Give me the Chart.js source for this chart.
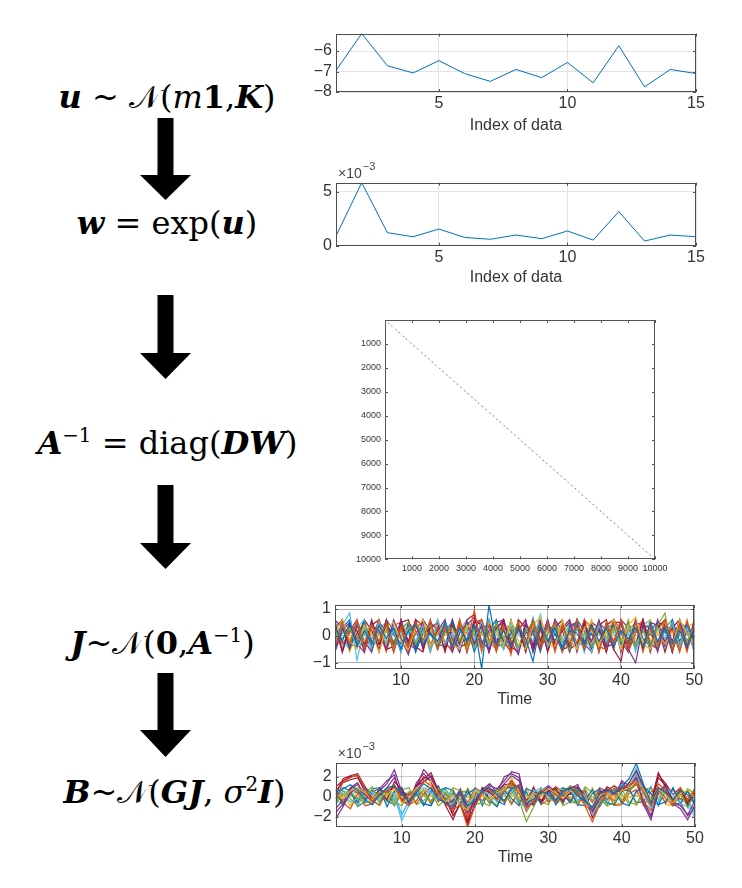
<!DOCTYPE html>
<html>
<head>
<meta charset="utf-8">
<script src="https://cdn.jsdelivr.net/npm/chart.js@4.4.1/dist/chart.umd.min.js"></script>
<style>
  body { margin: 0; background: #fff; }
  #page { position: relative; width: 742px; height: 888px; overflow: hidden; background: #fff; }
  canvas { position: absolute; }
  .eq { position: absolute; width: 300px; text-align: center; font-family: "DejaVu Serif", "Liberation Serif", serif; font-size: 32px; line-height: 40px; color: #000; white-space: nowrap; }
  .eq b { font-weight: bold; }
  .eq sup { font-size: 0.62em; vertical-align: 0.6em; line-height: 0; }
</style>
</head>
<body>
<div id="page">
  <svg width="742" height="888" style="position:absolute;left:0;top:0">
    <polygon points="157.5,118 173.5,118 173.5,175 191,175 165.5,200 140,175 157.5,175" fill="#000"/>
    <polygon points="157.5,295 173.5,295 173.5,353 191,353 165.5,379 140,353 157.5,353" fill="#000"/>
    <polygon points="157.5,485 173.5,485 173.5,543 191,543 165.5,569 140,543 157.5,543" fill="#000"/>
    <polygon points="157.5,673 173.5,673 173.5,730 191,730 165.5,757 140,730 157.5,730" fill="#000"/>
  </svg>

  <div class="eq" style="left:17px;top:77px"><b><i>u</i></b> ~ 𝒩(<i>m</i><b>1</b>,<b><i>K</i></b>)</div>
  <div class="eq" style="left:17px;top:203px"><b><i>w</i></b> = exp(<b><i>u</i></b>)</div>
  <div class="eq" style="left:17.5px;top:423px"><b><i>A</i></b><sup>−1</sup> = diag(<b><i>DW</i></b>)</div>
  <div class="eq" style="left:12.5px;top:623px"><b><i>J</i></b>~𝒩(<b>0</b>,<b><i>A</i></b><sup>−1</sup>)</div>
  <div class="eq" style="left:24.5px;top:772px"><b><i>B</i></b>~𝒩(<b><i>GJ</i></b>, <i>σ</i><sup>2</sup><b><i>I</i></b>)</div>

  <canvas id="cu" width="420" height="116" style="left:300px;top:20px"></canvas>
  <canvas id="cw" width="420" height="128" style="left:300px;top:160px"></canvas>
  <canvas id="cs" width="380" height="270" style="left:330px;top:310px"></canvas>
  <canvas id="cj" width="420" height="120" style="left:300px;top:590px"></canvas>
  <canvas id="cb" width="420" height="128" style="left:300px;top:740px"></canvas>
</div>

<script>
// data index and sampled log-weights u
const dataIdx = [1,2,3,4,5,6,7,8,9,10,11,12,13,14,15];
const uVals = [-6.95,-5.15,-6.72,-7.07,-6.47,-7.1,-7.48,-6.9,-7.3,-6.56,-7.55,-5.74,-7.75,-6.9,-7.1];
// weights w = exp(u), stored in units of 1e-3
const wVals = [0.9,5.83,1.2,0.83,1.54,0.77,0.59,0.99,0.65,1.36,0.52,3.15,0.43,0.99,0.83];

const idxTicks = [5,10,15];
const uTicks = [-8,-7,-6];
const wTicks = [0,5];

// nonzero diagonal entries of A^-1 shown in the sparsity plot
const diagIdx = [130,250,410,520,690,800,960,1080,1210,1370,1490,1620,1750,1880,2030,2150,2290,2410,2560,2680,
  2810,2960,3080,3220,3350,3470,3610,3740,3890,4010,4150,4270,4420,4540,4680,4810,4950,5070,5200,5340,
  5460,5610,5730,5870,5990,6130,6260,6390,6520,6660,6780,6920,7050,7180,7310,7450,7580,7710,7840,7980,
  8100,8240,8370,8500,8640,8770,8900,9030,9170,9300,9430,9560,9690,9826];
const spyTicks = [1000,2000,3000,4000,5000,6000,7000,8000,9000,10000];

const time = [1,2,3,4,5,6,7,8,9,10,11,12,13,14,15,16,17,18,19,20,21,22,23,24,25,
  26,27,28,29,30,31,32,33,34,35,36,37,38,39,40,41,42,43,44,45,46,47,48,49,50];
const timeTicks = [10,20,30,40,50];
const jTicks = [-1,0,1];
const bTicks = [-2,0,2];

// source currents J, one row per source
const jTraces = [
  [.3,-.2,.5,-.4,.2,-.3,.4,-.1,.3,-.5, .2,.4,-.3,.1,-.2,.5,-.4,.3,-.2,.4, -1.22,1.15,-.3,.2,-.4,.3,-.1,-.95,.4,-.2, .3,-.5,.2,.1,-.3,.4,-.2,.3,-.4,.2, -.1,.3,-.4,.5,-.2,.3,-.3,.2,-.4,.3],
  [-.4,.5,-.3,.6,-.5,.4,-.2,.5,-.6,.3, -.4,.5,-.2,.6,-.5,.3,-.4,.6,-.3,.95, -.5,.4,-.6,.3,-.7,.5,-.3,.6,-.4,.5, -.6,.4,-.3,.6,-.5,.4,-.6,.5,-.3,.6, -.4,.5,-.6,.4,-.3,.6,-.5,.4,-.6,.5],
  [.1,.6,-.2,-.5,.4,.1,-.6,.3,.5,-.2, -.5,.3,.6,-.4,.1,.5,-.3,-.5,.4,.2, -.6,.5,.1,-.4,.6,-.2,-.5,.4,.7,-.3, -.4,.6,-.1,-.5,.3,.5,-.4,.2,.6,-.5, .4,.7,-.3,-.5,.2,.5,-.4,.6,.1,-.3],
  [-.6,.2,.5,-.3,-.6,.4,.2,-.5,.6,-.1, -.7,.3,.5,-.4,.2,.6,-.6,.1,.5,-.3, .4,-.6,.3,.5,-.2,-.7,.4,.1,-.5,.6, -.3,.2,.5,-.6,.4,-.2,.6,-.4,-.3,.5, -.5,-1.0,.4,.3,-.6,.5,-.2,.6,-.4,.2],
  [.2,-.1,.3,-.3,.1,.4,-.2,.2,-.4,.3, .5,-.3,.2,.4,-.5,.1,.3,-.2,.5,-.4, .2,-.3,.5,-.1,.3,-.4,.2,.5,-.3,.1, .4,-.2,-.5,.3,.2,-.4,.5,-.1,.3,-.2, .6,-.4,.2,-.3,.4,.85,-.5,.3,-.2,.4],
  [-.2,.4,.85,-.9,.3,-.4,.5,-.3,.2,-.6, .3,-.2,.4,-.5,.6,-.3,.1,-.4,.3,-.2, .5,-.4,.2,-.3,.4,-.5,.3,-.2,.8,-.4, .2,-.3,.5,-.4,.1,-.6,.4,-.2,.3,-.5, .4,-.3,.2,-.5,.3,-.1,.5,-.4,.3,-.6],
  [.5,-.6,.4,.2,-.5,.6,-.3,.5,-.6,.4, -.2,.6,-.5,.3,.5,-.6,.4,-.3,.6,.8, -.6,.5,-.3,.6,-.5,.4,-.6,.5,-.2,.6, -.5,.3,.6,-.4,.5,-.6,.4,.6,-.5,-.95, .5,-.4,.6,-.5,.3,.6,-.6,.4,-.5,.6],
  [-.1,.3,-.4,.1,.5,-.2,-.3,.4,.1,-.3, .2,-.5,.3,.1,-.4,.2,.5,-.3,-.1,.4, -.3,.2,.6,-.4,.1,.3,-.5,.2,-.2,.4, .1,-.4,.3,.5,-.2,.1,-.5,.3,.4,-.3, -.2,.5,-.1,-.4,.3,.2,-.5,.1,.4,-.2],
  [.4,-.3,.1,.5,-.4,-.1,.6,-.5,.2,.3, -.6,.1,.4,-.5,.3,-.2,-.6,.5,.1,-.4, .6,-.2,-.5,.4,.3,-.6,.2,.4,-.5,.1, .5,-.6,.2,-.3,.6,.3,-.4,-.5,.6,.2, -.6,.1,.5,-.2,-.5,.4,.2,-.6,.5,-.1],
  [0,.2,-.1,.1,-.2,.3,0,-.2,.2,-.1, .3,-.2,0,.2,-.3,.1,.2,-.1,.3,-.2, .1,-.3,.2,0,-.2,.3,-.1,.2,-.3,.1, .2,-.1,.3,-.2,0,.2,-.3,.1,.2,-.2, .3,-.1,-.2,.2,.1,-.3,.2,0,-.2,.1],
  [.6,.3,-.5,.4,-.2,-.6,.5,.2,-.4,.6, -.3,-.5,.6,.2,-.4,.5,-.1,-.6,.4,.7, -.2,-.5,.5,.6,-.4,.2,.6,-.6,.3,-.5, .6,.2,-.6,.4,-.5,.5,.3,-.4,.6,-.2, -.6,.5,.4,-.5,.6,-.3,.5,-.4,.2,-.5],
  [-.3,.1,.2,-.2,.4,-.4,.1,.3,-.2,.2, -.3,.4,-.1,-.3,.2,.4,-.2,.3,-.4,.1, .3,.1,-.4,.2,-.1,.5,-.3,-.2,.4,-.1, -.3,.4,.1,-.2,-.4,.3,.1,-.3,.2,.4, -.2,-.3,.3,.1,-.4,.2,.4,-.3,.1,-.2],
  [.5,-.4,-.2,.3,.6,-.5,.2,-.4,.5,.1, -.5,.4,.2,-.6,.3,.4,-.5,.2,.6,-.3, -.4,.6,-.1,-.5,.5,.1,-.4,.7,-.3,.4, -.5,.5,-.2,.3,-.6,.4,-.3,.5,.1,-.4, .5,-.6,.3,.4,-.5,.2,-.4,.6,-.2,.4],
  [-.5,.6,-.3,-.4,.6,.2,-.5,.6,-.3,.5, .6,-.4,-.6,.5,.2,-.5,.6,-.4,-.3,.6, .4,-.6,.5,-.2,-.6,.6,.3,-.5,.5,-.6, .3,.6,-.5,-.3,.6,-.4,.2,-.6,.5,.5, -.4,.6,-.5,.5,.4,-.6,.3,.6,-.5,.2],
  [-.5,.3,.6,-.2,-.4,.5,-.3,.6,.2,-.5, .4,-.6,.1,.5,-.3,-.4,.6,-.2,.3,-.6, .2,.5,-.4,-.3,.6,-.5,.1,.3,-.6,.4, -.2,.5,-.4,.6,.2,-.5,.3,-.6,.4,.1, -.3,.6,-.5,.2,.5,-.4,.6,-.2,.3,-.5],
  [.2,-.5,.4,-.1,.6,-.3,.2,-.6,.4,.5, -.2,-.4,.6,-.3,.1,.5,-.5,.4,-.6,.3, .6,-.1,-.4,.5,-.3,.2,.6,-.6,.2,-.4, .5,-.3,.1,.6,-.4,.3,-.5,.4,-.2,.6, -.3,.2,.6,-.6,.4,-.2,.3,-.5,.6,-.4],
  [-.3,.5,-.6,.2,.3,-.5,.6,-.1,-.4,.5, .1,-.3,.5,-.6,.4,.2,-.4,.6,-.5,.1, .3,-.6,.4,.2,-.5,.6,-.3,.1,.5,-.6, .2,.4,-.6,.3,-.1,.6,-.5,.2,-.4,.5, -.6,.3,.1,.6,-.4,-.2,.5,-.6,.3,.5],
  [.4,-.6,.2,.6,-.3,.5,-.6,.3,.1,-.6, .5,.2,-.4,.6,-.5,.3,.1,-.6,.5,-.2, -.4,.6,-.5,.3,.2,-.6,.5,-.3,.6,-.4, .1,-.6,.4,.5,-.3,-.6,.5,.2,-.5,.6, .3,-.4,.6,-.3,-.5,.4,-.6,.5,.3,-.6],
  [-.1,.4,-.3,.5,-.2,.1,.4,-.5,.3,-.1, .4,-.2,.3,-.5,.1,.4,-.3,.5,-.2,.3, -.4,.1,.4,-.5,.2,.3,-.4,.6,-.1,.3, -.4,.2,.5,-.3,.1,.4,-.5,.2,.3,-.4, .2,.5,-.3,.1,-.5,.3,.6,-.4,.2,-.3],
  [.6,-.2,-.5,.4,.1,-.6,.3,.5,-.4,.2, .5,-.6,.3,.1,-.5,.6,-.2,-.4,.5,.3, -.5,.2,.6,-.4,-.1,.5,-.6,.3,.4,-.5, .6,-.1,-.4,.5,-.6,.2,.4,-.5,.6,-.3, .1,-.5,.4,.6,-.3,.2,-.6,.5,-.4,.6],
  [.3,.6,-.5,.5,-.6,.4,.6,-.5,-.4,.6, -.5,.6,.4,-.6,.6,-.3,-.5,.6,-.6,.5, .6,-.5,.3,.6,-.4,-.6,.5,-.4,.6,-.3, .6,-.5,-.4,.6,-.3,.5,-.6,.4,.6,-.6, .5,-.3,.6,-.6,.5,.4,-.5,.6,-.4,.5]
];

// sensor measurements B, in units of 1e-3
const bTraces = [
  [.5,.8,1.2,.6,-.3,-.8,.2,.9,1.1,.3, -.5,.4,1.3,.8,-.2,-.6,-1.0,.5,-.9,-.3, .6,.9,.2,-.4,.8,1.0,-.7,-.2,.5,.3, -.4,.6,.9,.1,-.5,-1.1,.3,.7,.4,1.0, 1.8,3.34,1.2,-.6,.9,.4,-.3,.6,.2,-.5],
  [-.4,1.5,1.9,2.2,.8,-.5,.3,.6,1.2,-.4, -.9,.5,1.6,1.1,.2,-.7,-1.3,-.8,-3.06,-.9, .4,.8,-.3,.5,1.4,.9,-1.2,-.4,.6,.2, -.6,.4,1.0,.3,-.9,-2.5,-.8,.5,.7,.9, 1.2,1.6,.4,-.8,1.3,.6,-.5,.9,-.3,.4],
  [.3,-.2,.6,.9,.4,-.3,.5,.2,.8,-.6, -.2,.9,.5,1.6,.3,-.5,.2,-.9,-1.3,.6, .2,-.3,.4,.7,1.9,.5,-.6,.3,.1,.8, .4,-.2,.6,.2,-.7,-1.1,.2,.4,-.3,.6, .9,1.5,.7,-.4,.8,.2,-.6,.3,.7,-.2],
  [-2.2,-1.0,.4,.9,.2,-.4,.6,1.3,2.7,.5, -.6,1.0,2.7,1.9,.4,-.8,-.4,.6,-1.6,-.3, .5,1.1,.8,1.6,2.5,2.3,-.9,-.6,.4,.9, .3,-.5,.8,1.2,-.4,-1.4,-.2,.7,.3,1.4, .8,1.9,-.8,-2.3,.6,1.0,-.7,-1.2,-2.3,-.8],
  [-.6,.2,.5,-.3,.3,.6,-.2,.4,-.5,-.9, .4,.7,.2,-.4,.8,.3,-.6,-.2,-1.1,.5, .3,-.4,.6,.9,1.2,-.3,-2.5,-1.0,.4,.2, -.3,.5,1.1,.6,-.2,-1.3,-.5,.3,.8,-.4, .6,1.2,.5,-.9,.7,.3,-.8,.5,-1.1,.3],
  [.8,.3,-.5,-.2,.6,.2,-.4,.9,.2,-2.4, -.8,.5,.9,.4,-.3,.7,-.2,-.6,-1.4,.4, .6,.2,-.5,1.0,.6,-.4,-1.3,.5,.9,-.2, -.5,.4,.7,-.3,.3,-1.8,-.6,.2,.6,1.2, 1.0,2.2,.3,-1.2,-.4,.8,.2,-.7,-1.0,-2.0],
  [.2,1.8,2.1,2.3,1.0,-.2,.4,-.3,1.5,.7, -.3,1.2,1.8,2.4,.6,-.9,-2.3,-.5,-2.8,-.6, .9,.4,-.2,.8,1.6,.5,-.9,.3,-.5,.6, .8,-.3,.4,1.0,.2,-2.1,-.7,.6,1.1,.5, 1.4,2.6,1.0,-.5,2.4,.9,-.4,.7,-.6,.5],
  [.7,-.9,.4,-.6,1.0,-.3,.8,-1.0,.5,.9, -.7,.3,-.9,.6,1.1,-.5,.4,-.8,.7,-1.0, .9,-.4,-1.0,.6,-.2,-.9,.8,.5,-.7,1.0, -.8,.2,-.6,.9,-.4,.7,-1.0,.3,.8,-.6, -.9,.5,1.0,.3,-.8,-.5,.9,-.7,.6,-.9],
  [.4,-.6,-1.2,.3,.7,-.4,-.8,.5,.9,-.3, .5,-.7,.3,.9,-.5,.4,-1.0,.3,-2.0,.2, -.4,.6,.2,-.6,1.1,.4,-1.5,-.3,.7,-.5, .3,.6,-.4,.2,-.8,-1.6,.4,-.3,.5,-.6, .7,1.3,-.5,-1.4,.9,-.2,-.9,.4,-.6,.8],
  [.1,0,.1,-.1,0,.1,0,-.1,.1,0, -.1,.1,0,.1,-.1,0,.1,0,-.1,.1, 0,-.1,.1,0,.1,-.1,0,.1,0,-.1, .1,0,-.1,.1,0,-.1,.1,0,.1,0, -.1,.1,0,-.1,.1,0,-.1,.1,0,.1],
  [-1.6,-.7,.8,1.2,.3,-.5,.2,.9,1.9,.2, -.4,.6,1.5,2.0,-.2,-.6,-1.2,.3,-1.0,-.7, .3,.8,.5,1.3,2.1,1.6,-.5,-.8,.2,.6, -.3,.4,.9,.5,-.6,-1.0,.2,.5,.1,.9, .5,1.4,-.4,-1.9,.8,.6,-.5,-.9,-1.8,-.4],
  [-.8,.6,-.2,-.9,.4,1.0,-.6,.3,-.9,.7, .9,-.8,-.4,.5,-.9,-.3,.9,.6,.4,-.8, -.6,-.9,.8,-.5,.3,1.0,.2,-.8,.9,-.6, .7,-.9,-.5,-.7,1.0,.4,-.2,-.9,-.6,.8, -.5,-.8,.7,.9,-.3,1.0,-.6,-.9,.8,.3],
  [-.5,.6,.3,-.4,.9,.4,-.6,.2,-.3,-1.7, -.5,.3,.6,.9,-.4,.2,-.7,.5,-.9,.7, .3,-.5,.6,.2,.8,-.2,-.9,.7,.4,-.4, .6,.3,-.2,.5,-.5,-1.2,.3,-.4,.7,.6, 1.3,2.9,.6,-.8,.2,.5,-.6,.3,-.4,-1.5],
  [.6,1.4,1.7,1.9,.5,-.3,.8,.2,1.1,-.4, .2,.9,2.0,1.6,-.3,-.5,-1.6,.4,-2.4,.3, .7,-.2,.5,1.2,1.3,.8,-.6,.9,-.4,.5, .6,.2,-.5,.7,-.3,-1.5,.4,.8,.3,.8, 1.1,2.0,.4,-.9,1.9,1.1,-.3,.5,-.8,.4],
  [-.2,.9,.6,-1.0,-.5,.8,.9,-.4,-.8,.5, .2,.8,-.7,-.9,.6,.9,.6,-.9,.3,.8, -.9,.7,-.4,-.8,1.1,-.6,.5,-.9,.2,.7, -.3,.9,.6,-.8,-.9,.3,.8,-.6,-.8,.5, .8,-.6,-.5,1.0,-.9,.7,-.4,.6,-.9,.8],
  [.9,-.6,.8,.4,-.9,-.7,.3,.6,-.9,.4, -.8,-.4,.7,-.6,.9,-.9,-.3,.7,-.6,.9, .4,-.7,.8,.3,-.8,.6,-.5,1.0,-.8,-.3, .9,-.5,.8,-.9,.4,-.6,.9,.5,-.9,-.8, .3,.7,-.9,.5,.9,-.7,.8,-.3,.5,-.7],
  [-.6,.3,-.9,.7,.2,-.8,.9,-.6,.4,.8, -.4,.9,-.8,.3,.5,-.6,.8,-.9,.9,-.5, .7,.9,-.6,-.3,.5,-.8,.9,-.5,.6,.9, -.7,-.3,.8,.5,-.9,.9,-.4,.6,-.8,-.6, .9,-.9,.4,-.6,.6,-.8,-.9,.9,-.4,.6],
  [-1.2,-.3,.9,1.4,-.2,.5,.8,1.6,2.2,-.3, -.8,1.4,2.3,1.5,-.5,.3,-.6,.8,-1.2,-.9, .7,1.3,.4,2.0,2.3,1.9,-.4,-.9,.6,1.1, .5,-.7,1.0,.9,-.2,-1.1,.6,.3,-.4,1.6, 1.1,1.5,-.5,-2.0,.3,1.3,-.9,-.6,-1.9,-1.1],
  [.4,-.8,.7,.9,-.6,-.4,-.9,.8,-.3,.9, -.9,.2,.6,-.8,.4,.8,-.9,.4,.6,-.7, .8,-.2,-.9,.9,-.6,.5,-.9,.8,-.5,-.8, .6,.9,-.3,-.6,.8,-.4,.6,-.9,.9,.3, -.8,.6,-.7,-.3,.9,.5,-.9,.3,-.6,.9],
  [-.4,-.7,.3,.5,-.5,.6,.2,-.5,.6,-1.9, -.3,.7,.2,.6,.4,-.4,-.5,.2,-1.2,.8, -.5,.5,.3,-.4,.5,.4,-1.1,.2,.6,.3, -.6,.6,.4,-.5,.2,-1.4,.5,-.2,.3,.9, .6,2.5,.9,-1.0,-.6,.4,.6,-.2,-.7,-1.7],
  [1.0,1.6,2.0,2.1,.7,.3,-.5,.6,.9,.2, -.6,1.1,1.5,2.1,.4,-.2,-1.9,-.8,-2.6,.4, .5,.7,.2,1.0,.9,1.2,-.4,.6,-.7,.3, 1.0,.4,.2,.4,.6,-1.7,-.2,1.0,.6,1.0, .9,2.3,.8,-.7,2.2,1.3,.2,.9,-.3,.8]
];

// default MATLAB line colour order
const lineColors = ['#0072BD','#D95319','#EDB120','#7E2F8E','#77AC30','#4DBEEE','#A2142F'];

Chart.defaults.font.family = '"Liberation Sans", Arial, sans-serif';
Chart.defaults.color = '#333';

function minus(v) { return String(v).replace('-', '\u2212'); }

// axes box, inward tick marks and the optional x10^n multiplier
const boxPlugin = {
  id: 'matBox',
  afterDatasetsDraw(chart, args, opts) {
    const { ctx, chartArea: a, scales } = chart;
    ctx.save();
    ctx.strokeStyle = opts.color || '#4d4d4d';
    ctx.lineWidth = 1;
    ctx.strokeRect(Math.round(a.left) + 0.5, Math.round(a.top) + 0.5,
      Math.round(a.width) - 1, Math.round(a.height) - 1);
    const len = opts.tick || 3;
    ctx.beginPath();
    scales.x.ticks.forEach(t => {
      const px = Math.round(scales.x.getPixelForValue(t.value)) + 0.5;
      ctx.moveTo(px, a.bottom); ctx.lineTo(px, a.bottom - len);
      ctx.moveTo(px, a.top); ctx.lineTo(px, a.top + len);
    });
    scales.y.ticks.forEach(t => {
      const py = Math.round(scales.y.getPixelForValue(t.value)) + 0.5;
      ctx.moveTo(a.left, py); ctx.lineTo(a.left + len, py);
      ctx.moveTo(a.right, py); ctx.lineTo(a.right - len, py);
    });
    ctx.stroke();
    if (opts.exponent) {
      ctx.fillStyle = '#444';
      ctx.textBaseline = 'middle';
      ctx.font = '14px "Liberation Sans", Arial, sans-serif';
      ctx.fillText('\u00d710', a.left + 2, a.top - 9);
      const w = ctx.measureText('\u00d710').width;
      ctx.font = '11px "Liberation Sans", Arial, sans-serif';
      ctx.fillText(minus(opts.exponent), a.left + 2 + w + 1, a.top - 16);
    }
    ctx.restore();
  }
};

function fixTicks(list) {
  return s => { s.ticks = list.map(v => ({ value: v })); };
}

function xyPoints(xs, ys) {
  return ys.map((v, i) => ({ x: xs[i], y: v }));
}

// generic MATLAB-like line axes
function lineAxes(id, opts) {
  return new Chart(document.getElementById(id), {
    type: 'line',
    data: { datasets: opts.datasets },
    options: {
      responsive: false,
      animation: false,
      events: [],
      layout: { padding: { top: opts.padTop, right: opts.padRight, left: 0, bottom: 0 } },
      plugins: {
        legend: { display: false },
        tooltip: { enabled: false },
        matBox: { exponent: opts.exponent, color: opts.boxColor }
      },
      scales: {
        x: {
          type: 'linear',
          min: opts.xMin, max: opts.xMax,
          afterBuildTicks: fixTicks(opts.xTicks),
          afterFit: s => { s.height = opts.xHeight; },
          grid: { color: opts.gridColor, drawTicks: false },
          border: { display: false },
          ticks: { padding: 2, font: { size: 16 }, color: '#333', maxRotation: 0, autoSkip: false, callback: v => minus(v) },
          title: { display: true, text: opts.xTitle, font: { size: 16 }, color: '#333', padding: { top: 0, bottom: 1 } }
        },
        y: {
          type: 'linear',
          min: opts.yMin, max: opts.yMax,
          afterBuildTicks: fixTicks(opts.yTicks),
          afterFit: s => { s.width = opts.yWidth; },
          grid: { color: opts.gridColor, drawTicks: false },
          border: { display: false },
          ticks: { padding: 4, font: { size: 16 }, color: '#333', autoSkip: false, callback: v => minus(v) }
        }
      }
    },
    plugins: [boxPlugin]
  });
}

function singleLine(xs, ys) {
  return [{ data: xyPoints(xs, ys), borderColor: '#0072BD', borderWidth: 1, pointRadius: 0, tension: 0 }];
}

function manyLines(traces) {
  return traces.map((tr, i) => ({
    data: xyPoints(time, tr),
    borderColor: lineColors[i % lineColors.length],
    borderWidth: 1.2,
    pointRadius: 0,
    tension: 0
  }));
}

lineAxes('cu', {
  datasets: singleLine(dataIdx, uVals),
  xMin: 1, xMax: 15, xTicks: idxTicks, yMin: -8, yMax: -5.15, yTicks: uTicks,
  padTop: 8, padRight: 24, yWidth: 36, xHeight: 44,
  gridColor: '#e3e3e3', xTitle: 'Index of data'
});

lineAxes('cw', {
  datasets: singleLine(dataIdx, wVals),
  xMin: 1, xMax: 15, xTicks: idxTicks, yMin: 0, yMax: 5.83, yTicks: wTicks,
  padTop: 22.7, padRight: 24, yWidth: 36, xHeight: 42.3,
  gridColor: '#e3e3e3', xTitle: 'Index of data', exponent: -3
});

lineAxes('cj', {
  datasets: manyLines(jTraces),
  xMin: 1, xMax: 50, xTicks: timeTicks, yMin: -1.22, yMax: 1.15, yTicks: jTicks,
  padTop: 15, padRight: 25.7, yWidth: 35, xHeight: 41.3,
  gridColor: 'rgba(0,0,0,0.3)', xTitle: 'Time'
});

lineAxes('cb', {
  datasets: manyLines(bTraces),
  xMin: 1, xMax: 50, xTicks: timeTicks, yMin: -3.06, yMax: 3.34, yTicks: bTicks,
  padTop: 23.3, padRight: 25, yWidth: 35.7, xHeight: 40.7,
  gridColor: 'rgba(0,0,0,0.2)', xTitle: 'Time', exponent: -3
});

// sparsity pattern of the diagonal matrix
new Chart(document.getElementById('cs'), {
  type: 'scatter',
  data: {
    datasets: [{
      data: diagIdx.map(k => ({ x: k, y: k })),
      showLine: true,
      borderColor: 'rgba(90,90,90,0.18)',
      borderWidth: 0.7,
      pointRadius: 0.6,
      pointBorderWidth: 0,
      pointBackgroundColor: '#777'
    }]
  },
  options: {
    responsive: false,
    animation: false,
    events: [],
    layout: { padding: { top: 10, right: 55, left: 0, bottom: 0 } },
    plugins: { legend: { display: false }, tooltip: { enabled: false }, matBox: { color: '#555', tick: 3 } },
    scales: {
      x: {
        type: 'linear', min: 0, max: 10000,
        afterBuildTicks: fixTicks(spyTicks),
        afterFit: s => { s.height = 20.7; },
        grid: { display: false, drawTicks: false },
        border: { display: false },
        ticks: { padding: 4, font: { size: 9 }, color: '#333', maxRotation: 0, autoSkip: false, callback: v => String(v) }
      },
      y: {
        type: 'linear', min: 0, max: 10000, reverse: true,
        afterBuildTicks: fixTicks(spyTicks),
        afterFit: s => { s.width = 55; },
        grid: { display: false, drawTicks: false },
        border: { display: false },
        ticks: { padding: 4, font: { size: 9 }, color: '#333', autoSkip: false, callback: v => String(v) }
      }
    }
  },
  plugins: [boxPlugin]
});
</script>
</body>
</html>
